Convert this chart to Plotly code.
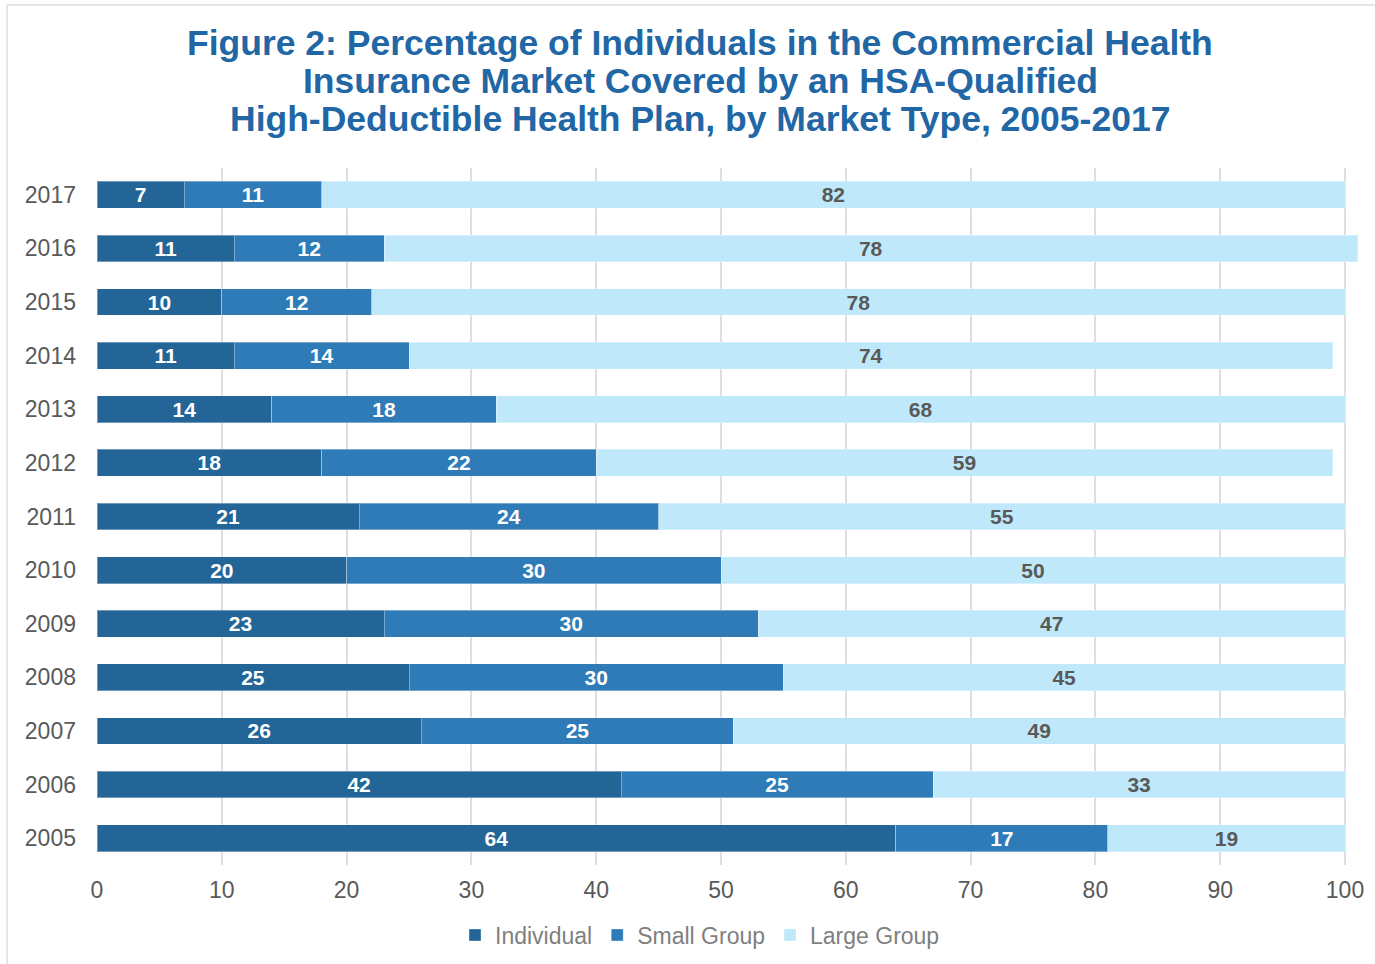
import plotly.graph_objects as go

# Market-type shares of HSA-qualified HDHP enrollment, by year
years = ["2005", "2006", "2007", "2008", "2009", "2010", "2011",
         "2012", "2013", "2014", "2015", "2016", "2017"]
individual = [64, 42, 26, 25, 23, 20, 21, 18, 14, 11, 10, 11, 7]
small_group = [17, 25, 25, 30, 30, 30, 24, 22, 18, 14, 12, 12, 11]
large_group = [19, 33, 49, 45, 47, 50, 55, 59, 68, 74, 78, 78, 82]

title_lines = [
    "Figure 2: Percentage of Individuals in the Commercial Health",
    "Insurance Market Covered by an HSA-Qualified",
    "High-Deductible Health Plan, by Market Type, 2005-2017",
]

series = [
    ("Individual", individual, "#236597", "#ffffff"),
    ("Small Group", small_group, "#2e7bb7", "#ffffff"),
    ("Large Group", large_group, "#bfe9fb", "#595959"),
]

FONT = "Liberation Sans, Arial, sans-serif"

# Figure geometry (pixels)
W, H = 1375, 964
L, T, B = 97, 168, 99
X_MAX = 101.2              # leaves room for rows whose rounded shares exceed 100
PX_PER_UNIT = 12.48
plot_w = X_MAX * PX_PER_UNIT
R = W - L - plot_w
plot_h = H - T - B


def paper_x(px):
    return (px - L) / plot_w


def paper_y(py):
    return (H - B - py) / plot_h


fig = go.Figure()
for name, vals, color, txt_color in series:
    fig.add_trace(go.Bar(
        name=name,
        y=years,
        x=vals,
        orientation="h",
        marker=dict(color=color, line=dict(color="rgba(255,255,255,0.35)", width=1)),
        width=0.5,
        text=[f"<b>{v}</b>" for v in vals],
        textposition="inside",
        insidetextanchor="middle",
        textangle=0,
        constraintext="none",
        textfont=dict(family=FONT, size=21, color=txt_color),
        cliponaxis=False,
    ))

annotations = []
for i, line in enumerate(title_lines):
    annotations.append(dict(
        text=f"<b>{line}</b>",
        xref="paper", yref="paper",
        x=paper_x(700), y=paper_y(43 + 38 * i),
        xanchor="center", yanchor="middle",
        showarrow=False,
        font=dict(family=FONT, size=35.5, color="#2166a5"),
    ))

fig.update_layout(
    barmode="stack",
    width=W,
    height=H,
    paper_bgcolor="white",
    plot_bgcolor="white",
    margin=dict(l=L, r=R, t=T, b=B, autoexpand=False),
    font=dict(family=FONT, color="#595959"),
    showlegend=True,
    xaxis=dict(
        range=[0, X_MAX],
        tickvals=list(range(0, 101, 10)),
        showgrid=True,
        gridcolor="#dedede",
        gridwidth=1.5,
        zeroline=False,
        showline=False,
        ticks="",
        automargin=False,
        tickfont=dict(family=FONT, size=23, color="#595959"),
        ticklabelstandoff=9,
    ),
    yaxis=dict(
        categoryorder="array",
        categoryarray=years,
        showgrid=False,
        showline=False,
        ticks="",
        automargin=False,
        tickfont=dict(family=FONT, size=23, color="#595959"),
        ticklabelstandoff=20,
    ),
    legend=dict(
        orientation="h",
        x=paper_x(700), xanchor="center",
        y=paper_y(935), yanchor="middle",
        font=dict(family=FONT, size=23, color="#7f7f7f"),
        itemwidth=30,
        traceorder="normal",
    ),
    annotations=annotations,
    shapes=[
        # thin outer frame on the left and top
        dict(type="line", xref="paper", yref="paper",
             x0=paper_x(7), x1=paper_x(7),
             y0=paper_y(5), y1=paper_y(H),
             line=dict(color="#e6e6e6", width=2)),
        dict(type="line", xref="paper", yref="paper",
             x0=paper_x(7), x1=paper_x(W),
             y0=paper_y(5), y1=paper_y(5),
             line=dict(color="#e6e6e6", width=2)),
    ],
)

fig.write_html("out.html")
